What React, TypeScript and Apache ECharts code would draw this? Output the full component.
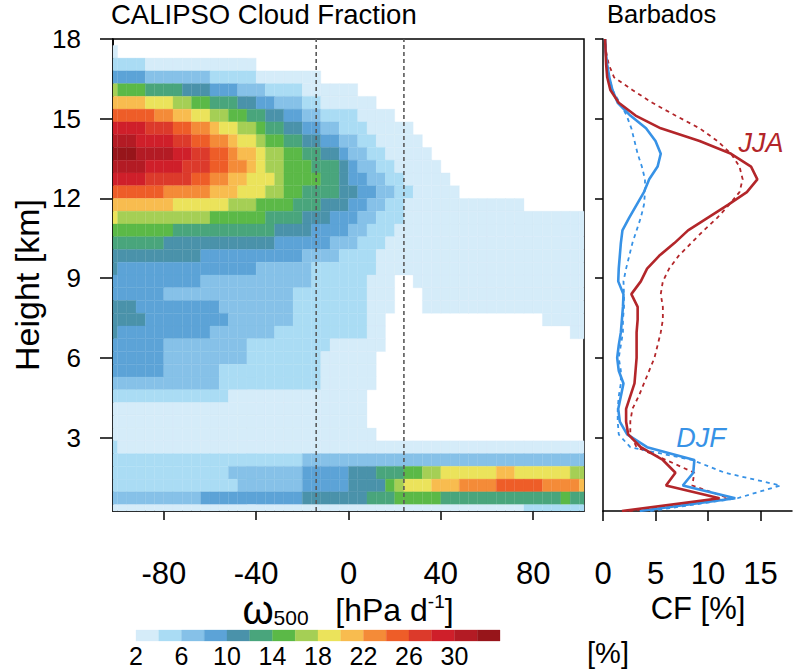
import React, { useEffect, useRef } from "react";
import * as echarts from "echarts";

// ---------- data ----------
const FONT = "Liberation Sans, Arial, Helvetica, sans-serif";

// omega500 bins (hPa/d): edges every 4, first edge -104
const OMEGA_FIRST_EDGE = -104;
const OMEGA_BIN = 4;
const OMEGA_RANGE = [-102, 102];
// height bins (km): edges every 0.48 km
const HEIGHT_BIN = 0.48;
const HEIGHT_RANGE = [0.24, 18];

const X_TICKS = [-80, -40, 0, 40, 80];
const Y_TICKS = [3, 6, 9, 12, 15, 18];
const CF_TICKS = [0, 5, 10, 15];
const DASHED_OMEGA = [-14, 24];

// colour levels (%): [2,4), [4,6) ... [30,32), >=32
const LEVEL_EDGES = [2, 4, 6, 8, 10, 12, 14, 16, 18, 20, 22, 24, 26, 28, 30, 32, 34];
const COLORBAR_LABELS = [2, 6, 10, 14, 18, 22, 26, 30];
const COLORS = [
  "#d5ecf9", "#aadcf4", "#86c1e8", "#5ca3d7", "#4a92aa", "#49a57c", "#5bb947", "#a5cf55",
  "#ebe35b", "#f8bc4f", "#f48b38", "#ee5d28", "#dc3a2b", "#cf1f2a", "#b31b24", "#97151a",
];

// Heat map levels, one string per height bin, top (17.76-18.24 km) to bottom (0-0.48 km),
// each a run list "level*count" over the 52 omega bins from -104 to 104.
const HEAT_ROWS = [
  "0*52",
  "1 0*51",
  "2*4 1*12 0*36",
  "4*4 3*7 2*5 1*7 0*29",
  "8 7*3 6*4 5*3 4*3 3*3 2*4 1*6 0*25",
  "10*4 9*3 8*2 7*2 6*3 5*2 4*2 3*3 2*2 1*6 0*23",
  "12*5 11*2 10*2 9*2 8*2 7*2 6*2 5*2 4*2 3*2 2*4 1*4 0*21",
  "14*4 13*3 12*2 11*2 10 9*2 8*2 7 6*2 5*2 4*2 3*2 2*3 1*5 0*19",
  "15*3 14*4 13*2 12*2 11*2 10 9*2 8 7*2 6*2 5*2 4*2 3*2 2*2 1*5 0*18",
  "16*3 15*4 14*2 13*2 12*2 11 10*2 9 8*2 7*2 6*2 5*2 4 3*2 2*2 1*5 0*17",
  "15*4 14*4 13*3 12*2 11*2 10 9 8*2 7*3 6*3 5 4 3*2 2*2 1*5 0*16",
  "14*4 13*5 12*2 11*2 10*2 9*3 8 7*4 6*2 5 4*2 3*2 2*2 1*5 0*15",
  "12*6 11*5 10*3 9*3 8*2 7*2 6*4 5*2 4*2 3*2 2*2 1*5 0*14",
  "10*7 9*6 8*3 7*4 6*3 5*3 4*2 3*2 2*2 1*13 0*7",
  "9 8*10 7*6 6*4 5*3 4*3 3*2 2*3 1*20",
  "7*7 6*11 5*4 4*4 3*2 2*3 1*21",
  "6*6 5*12 4*6 3*3 2*3 1*22",
  "5*10 4*11 3*4 2*4 1*23",
  "5 4*15 3*6 2*7 1*23",
  "4*10 3*12 2*6 1*3 0*2 1*19",
  "4*6 3*14 2*8 1*3 0*3 1*18",
  "5*3 4*9 3*8 2*8 1*3 0*3 1*18",
  "5*4 4*9 3*7 2*8 1*2 0*17 1*5",
  "5 4*10 3*7 2*10 1*2 0*20 1*2",
  "4*6 3*9 2*9 1*6 0*22",
  "4*6 3*9 2*8 1*6 0*23",
  "4*6 3*6 2*11 1*6 0*23",
  "3*12 2*11 1*6 0*23",
  "2*13 1*15 0*24",
  "1*28 0*24",
  "1*28 0*24",
  "1*29 0*23",
  "2 1*51",
  "2*21 3*31",
  "2*13 3*8 4*5 5*3 6*3 7*2 8*2 9*6 10*2 9*6 8*2",
  "2*14 3*7 4*5 5*4 7 8 9*3 10*3 11*4 12*5 11*4 10",
  "3*10 4*11 5*7 6*3 7*5 6*13 7 6*2",
  "1*45 2*7",
];

// Barbados profiles (CF %) at level centres 0.24 ... 18.0 km
const HEIGHTS_KM = [
  0.24, 0.72, 1.2, 1.68, 2.16, 2.64, 3.12, 3.6, 4.08, 4.56, 5.04, 5.52, 6.0, 6.48, 6.96, 7.44,
  7.92, 8.4, 8.88, 9.36, 9.84, 10.32, 10.8, 11.28, 11.76, 12.24, 12.72, 13.2, 13.68, 14.16,
  14.64, 15.12, 15.6, 16.08, 16.56, 17.04, 17.52, 18.0,
];
const JJA_SOLID = [
  1.8, 11.1, 6.0, 6.9, 5.7, 3.6, 2.4, 2.2, 2.2, 2.6, 3.0, 3.1, 3.2, 3.2, 3.2, 3.3, 3.3, 2.7,
  3.6, 4.2, 5.35, 6.8, 8.1, 10.0, 11.9, 13.7, 14.7, 14.1, 12.2, 9.2, 5.5, 3.1, 1.5, 0.7, 0.4,
  0.3, 0.25, 0.2,
];
const JJA_DASHED = [
  2.5, 12.0, 8.5, 8.7, 6.0, 3.2, 2.6, 2.6, 2.8, 3.4, 3.9, 4.4, 4.9, 5.2, 5.5, 5.7, 5.7, 5.5,
  5.7, 6.3, 7.2, 8.4, 9.6, 10.9, 12.0, 13.0, 13.3, 13.0, 12.2, 10.9, 9.2, 6.9, 4.7, 2.8, 1.05,
  0.55, 0.3, 0.2,
];
const DJF_SOLID = [
  3.5, 12.6, 7.6, 8.6, 8.7, 4.2, 2.3, 1.6, 1.45, 1.7, 1.95, 1.5, 1.35, 1.5, 1.7, 1.8, 1.9, 1.95,
  1.45, 1.5, 1.6, 1.7, 1.85, 2.5, 3.2, 3.9, 4.4, 5.2, 5.5, 5.0, 4.1, 2.6, 1.4, 0.9, 0.6, 0.4,
  0.25, 0.2,
];
const DJF_DASHED = [
  4.5, 12.8, 16.9, 11.6, 8.5, 2.6, 1.5, 1.4, 1.4, 1.5, 1.7, 1.7, 1.5, 1.7, 1.9, 1.9, 2.0, 2.0,
  1.95, 2.2, 2.5, 2.8, 3.2, 3.6, 3.9, 4.0, 4.0, 3.7, 3.3, 3.0, 2.7, 2.25, 1.6, 0.9, 0.6, 0.4,
  0.25, 0.2,
];

// ---------- helpers ----------
function parseRow(s: string): number[] {
  const out: number[] = [];
  s.trim().split(/\s+/).forEach((tok) => {
    const [l, n] = tok.split("*");
    const c = n ? parseInt(n, 10) : 1;
    for (let i = 0; i < c; i++) out.push(parseInt(l, 10));
  });
  return out;
}

function buildHeat() {
  const data: number[][] = [];
  const nRows = HEAT_ROWS.length;
  HEAT_ROWS.forEach((row, t) => {
    const k = nRows - 1 - t;
    const yB = Math.max(k * HEIGHT_BIN, HEIGHT_RANGE[0]);
    const yT = Math.min((k + 1) * HEIGHT_BIN, HEIGHT_RANGE[1]);
    if (yT <= yB) return;
    parseRow(row).forEach((lev, j) => {
      if (!lev) return;
      const xL = Math.max(OMEGA_FIRST_EDGE + OMEGA_BIN * j, OMEGA_RANGE[0]);
      const xR = Math.min(OMEGA_FIRST_EDGE + OMEGA_BIN * (j + 1), OMEGA_RANGE[1]);
      if (xR <= xL) return;
      data.push([xL, xR, yB, yT, lev]);
    });
  });
  return data;
}

const rectRender = (params: any, api: any) => {
  const p0 = api.coord([api.value(0), api.value(3)]);
  const p1 = api.coord([api.value(1), api.value(2)]);
  const c = COLORS[api.value(4) - 1];
  return {
    type: "rect",
    shape: { x: p0[0], y: p0[1], width: p1[0] - p0[0], height: p1[1] - p0[1] },
    style: { fill: c, stroke: c, lineWidth: 0.3 },
  };
};

const RED = "#b3262a";
const BLUE = "#3792e6";

export default function App() {
  const ref = useRef<HTMLDivElement>(null);
  useEffect(() => {
    if (!ref.current) return;
    const chart = echarts.init(ref.current, undefined, { renderer: "svg" });
    const heat = buildHeat();
    const cbar = COLORS.map((_, i) => [LEVEL_EDGES[i], LEVEL_EDGES[i + 1], 0, 1, i + 1]);
    const prof = (vals: number[]) => vals.map((v, i) => [v, HEIGHTS_KM[i]]);
    const axisLine = { show: true, onZero: false, lineStyle: { color: "#000", width: 1.5 } };
    const txt = { fontFamily: FONT, color: "#000" };

    chart.setOption({
      animation: false,
      backgroundColor: "#fff",
      grid: [
        { left: 113, top: 39, width: 471, height: 472, show: true, borderColor: "#000", borderWidth: 1.5, backgroundColor: "transparent" },
        { left: 603, top: 39, width: 189, height: 472 },
        { left: 136, top: 630, width: 364, height: 11 },
      ],
      xAxis: [
        {
          gridIndex: 0, type: "value", min: OMEGA_RANGE[0], max: OMEGA_RANGE[1],
          axisLine, splitLine: { show: false },
          axisTick: { customValues: X_TICKS, length: 9, lineStyle: { color: "#000", width: 1.5 } },
          axisLabel: { customValues: X_TICKS, margin: 47, fontSize: 31, ...txt },
        },
        {
          gridIndex: 1, type: "value", min: 0, max: 18,
          axisLine, splitLine: { show: false },
          axisTick: { customValues: CF_TICKS, length: 10, lineStyle: { color: "#000", width: 1.5 } },
          axisLabel: { customValues: CF_TICKS, margin: 47, fontSize: 31, ...txt },
        },
        {
          gridIndex: 2, type: "value", min: LEVEL_EDGES[0], max: LEVEL_EDGES[LEVEL_EDGES.length - 1],
          axisLine: { show: false }, axisTick: { show: false }, splitLine: { show: false },
          axisLabel: { customValues: COLORBAR_LABELS, margin: 2, fontSize: 25, ...txt },
        },
      ],
      yAxis: [
        {
          gridIndex: 0, type: "value", min: HEIGHT_RANGE[0], max: HEIGHT_RANGE[1],
          axisLine, splitLine: { show: false },
          axisTick: { customValues: Y_TICKS, length: 13, lineStyle: { color: "#000", width: 1.5 } },
          axisLabel: { customValues: Y_TICKS, margin: 32, fontSize: 26, ...txt },
        },
        {
          gridIndex: 1, type: "value", min: HEIGHT_RANGE[0], max: HEIGHT_RANGE[1],
          axisLine, splitLine: { show: false },
          axisTick: { customValues: Y_TICKS, length: 8, lineStyle: { color: "#000", width: 1.5 } },
          axisLabel: { show: false },
        },
        {
          gridIndex: 2, type: "value", min: 0, max: 1, show: false,
        },
      ],
      series: [
        {
          type: "custom", xAxisIndex: 0, yAxisIndex: 0, renderItem: rectRender,
          data: heat, encode: { x: [0, 1], y: [2, 3] }, z: 1,
        },
        ...DASHED_OMEGA.map((w) => ({
          type: "line", xAxisIndex: 0, yAxisIndex: 0, symbol: "none", z: 3,
          data: [[w, HEIGHT_RANGE[0]], [w, HEIGHT_RANGE[1]]],
          lineStyle: { color: "#5a5a5a", width: 1.6, type: [4, 3] },
        })),
        {
          type: "custom", xAxisIndex: 2, yAxisIndex: 2, renderItem: rectRender,
          data: cbar, encode: { x: [0, 1], y: [2, 3] },
        },
        {
          name: "JJA dashed", type: "line", xAxisIndex: 1, yAxisIndex: 1, symbol: "none",
          data: prof(JJA_DASHED), lineStyle: { color: RED, width: 1.8, type: [4, 4] },
        },
        {
          name: "DJF dashed", type: "line", xAxisIndex: 1, yAxisIndex: 1, symbol: "none",
          data: prof(DJF_DASHED), lineStyle: { color: BLUE, width: 1.8, type: [4, 4] },
        },
        {
          name: "DJF", type: "line", xAxisIndex: 1, yAxisIndex: 1, symbol: "none",
          data: prof(DJF_SOLID), lineStyle: { color: BLUE, width: 2.6 },
        },
        {
          name: "JJA", type: "line", xAxisIndex: 1, yAxisIndex: 1, symbol: "none",
          data: prof(JJA_SOLID), lineStyle: { color: RED, width: 2.6 },
        },
      ],
      graphic: [
        { type: "text", x: 111, y: 14, style: { text: "CALIPSO Cloud Fraction", font: `27.5px ${FONT}`, fill: "#000", verticalAlign: "middle" } },
        { type: "text", x: 607, y: 14, style: { text: "Barbados", font: `25.5px ${FONT}`, fill: "#000", verticalAlign: "middle" } },
        { type: "text", x: 27, y: 285, rotation: Math.PI / 2, style: { text: "Height [km]", font: `34px ${FONT}`, fill: "#000", align: "center", verticalAlign: "middle" } },
        {
          type: "text", x: 348, y: 610,
          style: {
            text: "{w|ω}{s|500}{n|   [hPa d}{p|-1}{n|]}", align: "center", verticalAlign: "middle", fill: "#000",
            rich: {
              w: { fontSize: 40, fontFamily: FONT, lineHeight: 36 },
              s: { fontSize: 21, fontFamily: FONT, lineHeight: 22, verticalAlign: "bottom" },
              n: { fontSize: 32, fontFamily: FONT, lineHeight: 36 },
              p: { fontSize: 19, fontFamily: FONT, lineHeight: 18, verticalAlign: "top" },
            },
          },
        },
        { type: "text", x: 698, y: 608, style: { text: "CF [%]", font: `31px ${FONT}`, fill: "#000", align: "center", verticalAlign: "middle" } },
        { type: "text", x: 608, y: 653, style: { text: "[%]", font: `29px ${FONT}`, fill: "#000", align: "center", verticalAlign: "middle" } },
        { type: "text", x: 761, y: 143, style: { text: "JJA", font: `italic 27px ${FONT}`, fill: RED, align: "center", verticalAlign: "middle" } },
        { type: "text", x: 701, y: 438, style: { text: "DJF", font: `italic 27px ${FONT}`, fill: BLUE, align: "center", verticalAlign: "middle" } },
      ],
    });
    return () => chart.dispose();
  }, []);
  return <div ref={ref} style={{ position: "fixed", left: 0, top: 0, width: 796, height: 669, background: "#fff" }} />;
}
